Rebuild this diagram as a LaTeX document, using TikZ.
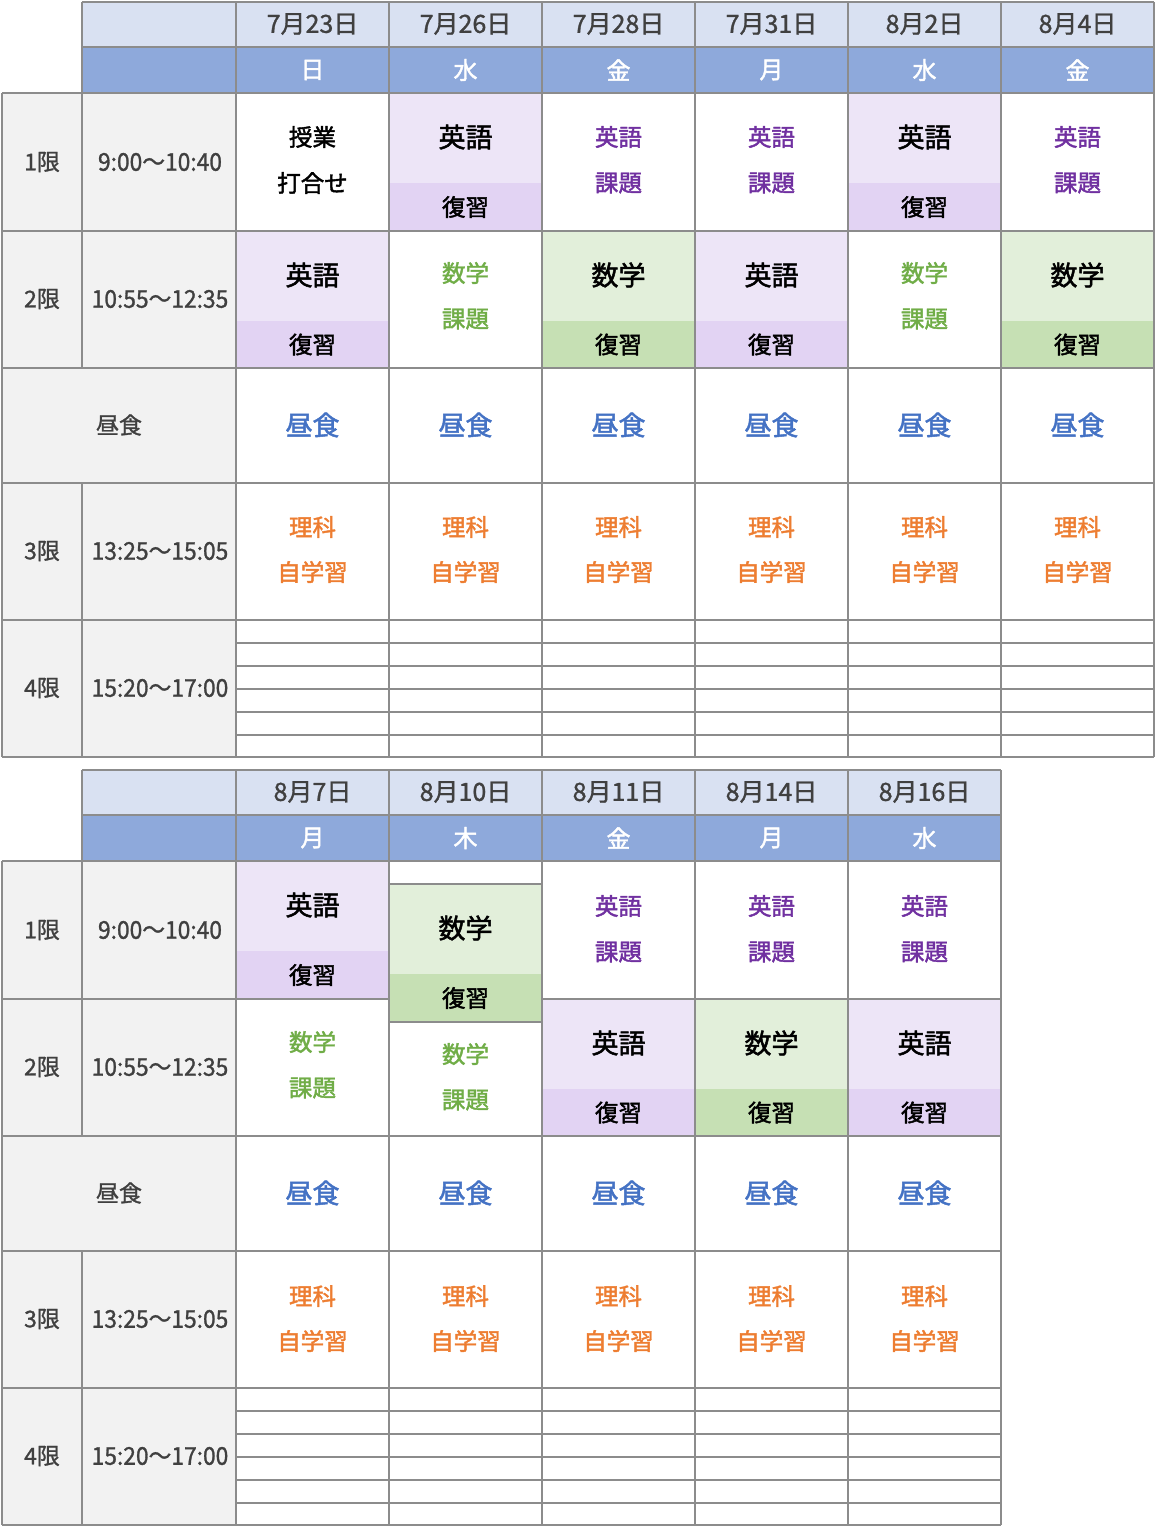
\documentclass[tikz,border=0pt]{standalone}
\usepackage{fontspec}
\setmainfont{Noto Sans CJK JP}
\newfontfamily\fmed{Noto Sans CJK JP}[FakeBold=1.2]
\newfontfamily\fsemi{Noto Sans CJK JP}[FakeBold=1.8]
\definecolor{gridc}{HTML}{8C8C8C}
\definecolor{hdrlight}{HTML}{D9E1F2}
\definecolor{hdrdark}{HTML}{8EA9DB}
\definecolor{leftgray}{HTML}{F2F2F2}
\definecolor{purpale}{HTML}{EDE5F7}
\definecolor{purdeep}{HTML}{E2D3F3}
\definecolor{grnpale}{HTML}{E2EFDA}
\definecolor{grndeep}{HTML}{C6E0B4}
\definecolor{purtxt}{HTML}{7030A0}
\definecolor{grntxt}{HTML}{70AD47}
\definecolor{blutxt}{HTML}{4472C4}
\definecolor{orgtxt}{HTML}{ED7D31}
\definecolor{darktxt}{HTML}{404040}
\newcommand{\SplitCell}[7]{%
  \fill[#5] (#2,#3) rectangle (#2+153,#3+90);
  \fill[#6] (#2,#3+90) rectangle (#2+153,#4);
  \node[bigtxt] (#1a) at (#2+76.5,#3+44) {#7};
  \node[revtxt] (#1b) at (#2+76.5,{(#3+90+#4)/2}) {復習};
}
\newcommand{\TwoLine}[6]{%
  \node[#4] (#1a) at (#2+76.5,#3+44) {#5};
  \node[#4] (#1b) at (#2+76.5,#3+90) {#6};
}
\newcommand{\cond}[1]{\scalebox{0.93}[1]{#1}}
\begin{document}
\begin{tikzpicture}[x=1pt,y=-1pt,
  grid/.style={draw=gridc,line width=2.4pt},
  labtxt/.style={inner sep=0pt,text=darktxt,font=\fontsize{23}{26}\fmed},
  timetxt/.style={inner sep=0pt,text=darktxt,font=\fontsize{24.5}{26}\fmed},
  datetxt/.style={inner sep=0pt,text=darktxt,font=\fontsize{25}{28}\fmed},
  daytxt/.style={inner sep=0pt,text=white,font=\fontsize{24}{26}\fsemi},
  bigtxt/.style={inner sep=0pt,text=black,font=\fontsize{27}{30}\fsemi},
  revtxt/.style={inner sep=0pt,text=black,font=\fontsize{23.5}{26}\fsemi},
  blktxt/.style={inner sep=0pt,text=black,font=\fontsize{23.5}{26}\fsemi},
  purtx/.style={inner sep=0pt,text=purtxt,font=\fontsize{23.5}{26}\fsemi},
  grntx/.style={inner sep=0pt,text=grntxt,font=\fontsize{23.5}{26}\fsemi},
  blutx/.style={inner sep=0pt,text=blutxt,font=\fontsize{27}{30}\fsemi},
  orgtx/.style={inner sep=0pt,text=orgtxt,font=\fontsize{23.5}{26}\fsemi}]
\useasboundingbox (0,0) rectangle (1155,1528);
% ================= upper table fills =================
\fill[hdrlight] (82,2) rectangle (1154,47);
\fill[hdrdark] (82,47) rectangle (1154,93);
\fill[leftgray] (2,93) rectangle (236,757);
% ================= lower table fills =================
\fill[hdrlight] (82,770) rectangle (1001,815);
\fill[hdrdark] (82,815) rectangle (1001,861);
\fill[leftgray] (2,861) rectangle (236,1525);
% ================= upper table cells =================
\TwoLine{ua1}{236}{93}{blktxt}{授業}{打合せ}
\SplitCell{ua2}{236}{231}{368}{purpale}{purdeep}{英語}
\SplitCell{ub1}{389}{93}{231}{purpale}{purdeep}{英語}
\TwoLine{ub2}{389}{229}{grntx}{数学}{課題}
\TwoLine{uc1}{542}{93}{purtx}{英語}{課題}
\SplitCell{uc2}{542}{231}{368}{grnpale}{grndeep}{数学}
\TwoLine{ud1}{695}{93}{purtx}{英語}{課題}
\SplitCell{ud2}{695}{231}{368}{purpale}{purdeep}{英語}
\SplitCell{ue1}{848}{93}{231}{purpale}{purdeep}{英語}
\TwoLine{ue2}{848}{229}{grntx}{数学}{課題}
\TwoLine{uf1}{1001}{93}{purtx}{英語}{課題}
\SplitCell{uf2}{1001}{231}{368}{grnpale}{grndeep}{数学}
\foreach \c/\x in {a/236,b/389,c/542,d/695,e/848,f/1001}{
  \node[blutx] (ul\c) at (\x+76.5,425) {昼食};
  \node[orgtx] (us\c) at (\x+76.5,527) {理科};
  \node[orgtx] (ut\c) at (\x+76.5,572) {自学習};
}
% ================= lower table cells =================
\SplitCell{la1}{236}{861}{999}{purpale}{purdeep}{英語}
\TwoLine{la2}{236}{998}{grntx}{数学}{課題}
\SplitCell{lb1}{389}{884}{1022}{grnpale}{grndeep}{数学}
\TwoLine{lb2}{389}{1010}{grntx}{数学}{課題}
\TwoLine{lc1}{542}{862}{purtx}{英語}{課題}
\SplitCell{lc2}{542}{999}{1136}{purpale}{purdeep}{英語}
\TwoLine{ld1}{695}{862}{purtx}{英語}{課題}
\SplitCell{ld2}{695}{999}{1136}{grnpale}{grndeep}{数学}
\TwoLine{le1}{848}{862}{purtx}{英語}{課題}
\SplitCell{le2}{848}{999}{1136}{purpale}{purdeep}{英語}
\foreach \c/\x in {a/236,b/389,c/542,d/695,e/848}{
  \node[blutx] (ll\c) at (\x+76.5,1193) {昼食};
  \node[orgtx] (ls\c) at (\x+76.5,1296) {理科};
  \node[orgtx] (lt\c) at (\x+76.5,1341) {自学習};
}
% ================= headers =================
\foreach \c/\x/\d/\w in {a/236/7月23日/日,b/389/7月26日/水,c/542/7月28日/金,d/695/7月31日/月,e/848/8月2日/水,f/1001/8月4日/金}{
  \node[datetxt] (ud\c) at (\x+76.5,24) {\d};
  \node[daytxt] (uw\c) at (\x+76.5,70) {\w};
}
\foreach \c/\x/\d/\w in {a/236/8月7日/月,b/389/8月10日/木,c/542/8月11日/金,d/695/8月14日/月,e/848/8月16日/水}{
  \node[datetxt] (ld\c) at (\x+76.5,792) {\d};
  \node[daytxt] (lw\c) at (\x+76.5,838) {\w};
}
% ================= left labels =================
\foreach \o/\p in {0/u,768/l}{
  \node[labtxt] (\p p1) at (42,162+\o) {1限};
  \node[timetxt] (\p t1) at (160,162+\o) {\cond{9:00〜10:40}};
  \node[labtxt] (\p p2) at (42,299+\o) {2限};
  \node[timetxt] (\p t2) at (160,299+\o) {\cond{10:55〜12:35}};
  \node[labtxt] (\p lu) at (119,425+\o) {昼食};
  \node[labtxt] (\p p3) at (42,551+\o) {3限};
  \node[timetxt] (\p t3) at (160,551+\o) {\cond{13:25〜15:05}};
  \node[labtxt] (\p p4) at (42,688+\o) {4限};
  \node[timetxt] (\p t4) at (160,688+\o) {\cond{15:20〜17:00}};
}
% ================= upper grid =================
\draw[grid] (82,2) -- (1154,2);
\draw[grid] (82,47) -- (1154,47);
\foreach \y in {93,231,368,483,620,757} \draw[grid] (2,\y) -- (1154,\y);
\foreach \y in {643,666,689,712,735} \draw[grid] (236,\y) -- (1154,\y);
\draw[grid] (2,93) -- (2,757);
\draw[grid] (82,2) -- (82,368);
\draw[grid] (82,483) -- (82,757);
\foreach \x in {236,389,542,695,848,1001,1154} \draw[grid] (\x,2) -- (\x,757);
% ================= lower grid =================
\draw[grid] (82,770) -- (1001,770);
\draw[grid] (82,815) -- (1001,815);
\foreach \y in {861,1136,1251,1388,1525} \draw[grid] (2,\y) -- (1001,\y);
\draw[grid] (2,999) -- (389,999);
\draw[grid] (542,999) -- (1001,999);
\draw[grid] (389,884) -- (542,884);
\draw[grid] (389,1022) -- (542,1022);
\foreach \y in {1411,1434,1457,1480,1503} \draw[grid] (236,\y) -- (1001,\y);
\draw[grid] (2,861) -- (2,1525);
\draw[grid] (82,770) -- (82,1136);
\draw[grid] (82,1251) -- (82,1525);
\foreach \x in {236,389,542,695,848,1001} \draw[grid] (\x,770) -- (\x,1525);
\end{tikzpicture}
\end{document}
